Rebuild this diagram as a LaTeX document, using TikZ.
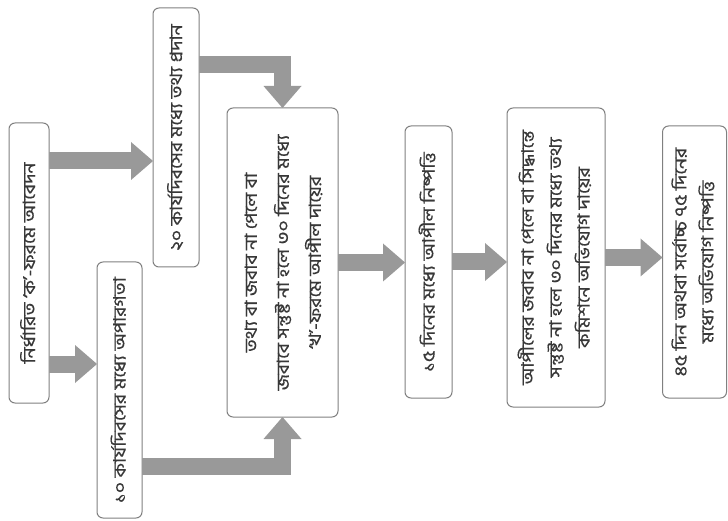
\documentclass[tikz,border=0pt]{standalone}
\usepackage{fontspec}
\usepackage{graphicx}
\newfontfamily\bn[Script=Bengali,FakeStretch=1.15,FakeBold=0.5]{Hind Siliguri}
\usetikzlibrary{arrows.meta,calc}
\newcommand\bt[2][30]{\rotatebox{90}{\bn\fontsize{17}{#1}\selectfont\begin{tabular}{@{}c@{}}#2\end{tabular}}}
\begin{document}
\begin{tikzpicture}[x=1pt,y=-1pt,
  box/.style={draw=black!50, line width=1pt, rounded corners=6pt, fill=white, inner sep=0pt, outer sep=0pt, text=black!78},
  flow/.style={draw=black!40, line width=17pt, line join=miter, -{Triangle[length=22pt,width=38pt,line width=0pt]}}
]
\fill[white] (0,0) rectangle (728,521);
\useasboundingbox (0,0) rectangle (728,521);

\node[box, minimum width=40, minimum height=280] (b1) at (29,263) {\bt{নির্ধারিত ‘ক’-ফরমে আবেদন}};
\node[box, minimum width=46, minimum height=259] (b2) at (176,137.5) {\bt{২০ কার্যদিবসের মধ্যে তথ্য প্রদান}};
\node[box, minimum width=45, minimum height=256] (b3) at (119.5,390) {\bt{১০ কার্যদিবসের মধ্যে অপারগতা}};
\node[box, minimum width=111, minimum height=309] (b4) at (282.5,262.5) {\bt[32]{তথ্য বা জবাব না পেলে বা\\জবাবে সন্তুষ্ট না হলে ৩০ দিনের মধ্যে\\‘খ’-ফরমে আপীল দায়ের}};
\node[box, minimum width=47, minimum height=272] (b5) at (428.5,262) {\bt{১৫ দিনের মধ্যে আপীল নিষ্পত্তি}};
\node[box, minimum width=98, minimum height=299] (b6) at (556,257.5) {\bt[28]{আপীলের জবাব না পেলে বা সিদ্ধান্তে\\সন্তুষ্ট না হলে ৩০ দিনের মধ্যে তথ্য\\কমিশনে অভিযোগ দায়ের}};
\node[box, minimum width=64, minimum height=272] (b7) at (694.5,262) {\bt[27]{৪৫ দিন অথবা সর্বোচ্চ ৭৫ দিনের\\মধ্যে অভিযোগ নিষ্পত্তি}};

\coordinate (s12) at ($(b1.north east)+(0,38)$);
\coordinate (s13) at ($(b1.north east)+(0,241)$);
\coordinate (s24) at ($(b2.north east)+(0,57)$);
\coordinate (s34) at ($(b3.north east)+(0,204)$);

\draw[flow] (s12) -- (s12 -| b2.west);
\draw[flow] (s13) -- (s13 -| b3.west);
\draw[flow] (s24) -| (b4.north);
\draw[flow] (s34) -| (b4.south);
\draw[flow] (b4.east) -- (b4.east -| b5.west);
\draw[flow] (b5.east) -- (b5.east -| b6.west);
\draw[flow] (b6.east) -- (b6.east -| b7.west);
\end{tikzpicture}
\end{document}
